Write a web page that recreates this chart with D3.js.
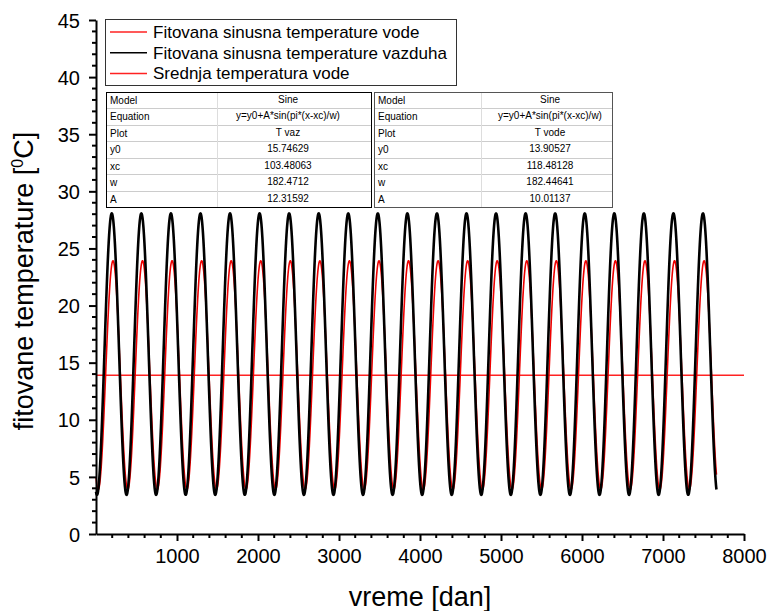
<!DOCTYPE html>
<html>
<head>
<meta charset="utf-8">
<script src="https://cdn.jsdelivr.net/npm/d3@7"></script>
<style>
  body { margin: 0; background: #fff; }
  text { font-family: "Liberation Sans", Arial, sans-serif; }
</style>
</head>
<body>
<script>
// fitted sine parameters
var fitNames = ["T vaz", "T  vode"];
var fitY0 = [15.74629, 13.90527];
var fitXc = [103.48063, 118.48128];
var fitW = [182.4712, 182.44641];
var fitA = [12.31592, 10.01137];
var fitColors = ["#000", "#e00"];
var dayRange = [0, 7660];

var meanWater = 13.9;
var meanRange = [0, 8000];

var legendLabels = ["Fitovana sinusna temperature vode", "Fitovana sinusna temperature vazduha", "Srednja temperatura vode"];
var legendColors = ["#f22", "#000", "#f22"];

var xTicks = [1000, 2000, 3000, 4000, 5000, 6000, 7000, 8000];
var yTicks = [0, 5, 10, 15, 20, 25, 30, 35, 40, 45];

var W = 771, H = 611;
var svg = d3.select("body").append("svg").attr("width", W).attr("height", H);

var x = d3.scaleLinear().domain([0, 8000]).range([96, 744]);
var y = d3.scaleLinear().domain([0, 45]).range([534, 20]);

// curves
var days = d3.range(dayRange[0], dayRange[1] + 1, 2);
function sine(i) {
  return function(d) { return fitY0[i] + fitA[i] * Math.sin(Math.PI * (d - fitXc[i]) / fitW[i]); };
}
var line = d3.line();

svg.append("path")
  .attr("d", line(meanRange.map(function(d) { return [x(d), y(meanWater)]; })))
  .attr("stroke", "#f22").attr("stroke-width", 1.5).attr("fill", "none");

[1, 0].forEach(function(i) {
  var f = sine(i);
  svg.append("path")
    .attr("d", line(days.map(function(d) { return [x(d), y(f(d))]; })))
    .attr("stroke", fitColors[i])
    .attr("stroke-width", i == 0 ? 2.6 : 1.6)
    .attr("fill", "none");
});

// axes
var xAxis = svg.append("g").attr("transform", "translate(0," + y(0) + ")")
  .call(d3.axisBottom(x).tickValues(xTicks).tickFormat(d3.format("d")).tickSize(7).tickSizeOuter(0));
var yAxis = svg.append("g").attr("transform", "translate(" + x(0) + ",0)")
  .call(d3.axisLeft(y).tickValues(yTicks).tickSize(7).tickSizeOuter(0));

// minor ticks
xAxis.selectAll(".minor").data(d3.range(200, 8000, 200).filter(function(d) { return d % 1000; }))
  .enter().append("line").attr("class", "minor")
  .attr("x1", function(d) { return x(d); }).attr("x2", function(d) { return x(d); })
  .attr("y1", 0).attr("y2", 4).attr("stroke", "#000").attr("stroke-width", 2);
yAxis.selectAll(".minor").data(d3.range(1, 45).filter(function(d) { return d % 5; }))
  .enter().append("line").attr("class", "minor")
  .attr("y1", function(d) { return y(d); }).attr("y2", function(d) { return y(d); })
  .attr("x1", 0).attr("x2", -4).attr("stroke", "#000").attr("stroke-width", 2);

[xAxis, yAxis].forEach(function(a) {
  a.select(".domain").attr("stroke-width", 2);
  a.selectAll(".tick line").attr("stroke-width", 2);
  a.selectAll(".tick text").style("font-size", "20px").attr("fill", "#000")
    .style("font-family", "'Liberation Sans', Arial, sans-serif");
});
xAxis.selectAll(".tick text").attr("dy", "0.95em").attr("y", 10);
yAxis.selectAll(".tick text").attr("x", -16).attr("dy", "0.36em");

// axis titles
svg.append("text").attr("x", x(4000)).attr("y", 606).attr("text-anchor", "middle")
  .style("font-size", "27px").text("vreme [dan]");
var yt = svg.append("text").attr("transform", "translate(33,281) rotate(-90)")
  .attr("text-anchor", "middle").style("font-size", "27px");
yt.append("tspan").text("fitovane temperature [");
yt.append("tspan").attr("dy", -10).style("font-size", "16px").text("0");
yt.append("tspan").attr("dy", 10).text("C]");

// legend
var lg = svg.append("g");
lg.append("rect").attr("x", 105.5).attr("y", 19.5).attr("width", 351).attr("height", 66)
  .attr("fill", "#fff").attr("stroke", "#333").attr("stroke-width", 1);
legendLabels.forEach(function(t, i) {
  var yy = 32 + i * 20.7;
  lg.append("line").attr("x1", 110).attr("x2", 147).attr("y1", yy).attr("y2", yy)
    .attr("stroke", legendColors[i]).attr("stroke-width", 1.5);
  lg.append("text").attr("x", 153).attr("y", yy + 6).style("font-size", "17px").text(t);
});

// parameter tables
var rowLabels = ["Model", "Equation", "Plot", "y0", "xc", "w", "A"];
var tables = [
  {x0: 106, x1: 217, x2: 371, c: 288, border: "#000"},
  {x0: 374, x1: 481, x2: 612, c: 550, border: "#555"}
];
var rowH = (207 - 92) / 7;
tables.forEach(function(tb, i) {
  var g = svg.append("g");
  var vals = ["Sine", "y=y0+A*sin(pi*(x-xc)/w)", fitNames[i],
    fitY0[i].toFixed(5), fitXc[i].toFixed(5), String(fitW[i]), fitA[i].toFixed(5)];
  g.append("rect").attr("x", tb.x0 + 0.5).attr("y", 92.5).attr("width", tb.x2 - tb.x0).attr("height", 115)
    .attr("fill", "#fff").attr("stroke", "none");
  for (var r = 1; r < 7; r++) {
    g.append("line").attr("x1", tb.x0).attr("x2", tb.x2)
      .attr("y1", Math.round(92 + r * rowH) + 0.5).attr("y2", Math.round(92 + r * rowH) + 0.5)
      .attr("stroke", "#ccc");
  }
  g.append("line").attr("x1", tb.x1 + 0.5).attr("x2", tb.x1 + 0.5).attr("y1", 92).attr("y2", 207).attr("stroke", "#ddd");
  g.append("rect").attr("x", tb.x0 + 0.5).attr("y", 92.5).attr("width", tb.x2 - tb.x0).attr("height", 115)
    .attr("fill", "none").attr("stroke", tb.border);
  rowLabels.forEach(function(t, r) {
    var yy = 92 + r * rowH + 12;
    g.append("text").attr("x", tb.x0 + 4).attr("y", yy).style("font-size", "10px").text(t);
    g.append("text").attr("x", tb.c).attr("y", yy - 1).attr("text-anchor", "middle")
      .style("font-size", "10px").text(vals[r]);
  });
});
</script>
</body>
</html>
